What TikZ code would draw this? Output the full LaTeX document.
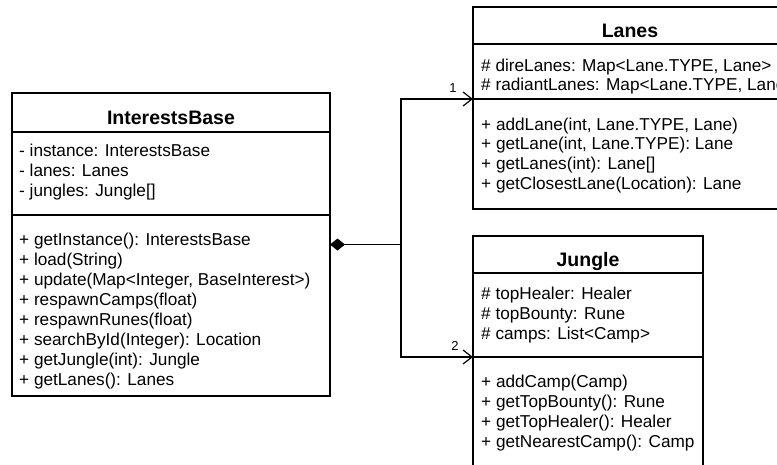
\documentclass[tikz,border=0pt]{standalone}
\usepackage{fontspec}
\setmainfont{Liberation Sans}
\usetikzlibrary{arrows.meta}
\begin{document}
\begin{tikzpicture}[x=1pt,y=-1pt,
  box/.style={draw=black, line width=1.2pt, fill=white, anchor=north west, inner sep=0pt, outer sep=0pt},
  sepline/.style={line width=1.2pt},
  ttl/.style={anchor=base, inner sep=0pt, font=\fontsize{19.5}{22}\selectfont\bfseries},
  mem/.style={anchor=base west, inner sep=0pt, font=\fontsize{17.2}{20}\selectfont},
  mult/.style={anchor=base, inner sep=0pt, font=\fontsize{13}{15}\selectfont},
  conn/.style={line width=1.2pt},
  openarrow/.style={-{Straight Barb[length=9pt,width=14pt]}},
  diamondtail/.style={{Diamond[length=15pt,width=12pt]}-},
]
\useasboundingbox (0,0) rectangle (777,464);
\clip (0,0) rectangle (777,464);
\fill[white] (0,0) rectangle (777,464);

% InterestsBase
\node[box, minimum width=318pt, minimum height=303pt] (ib) at (12,93) {};
\draw[sepline] (12,132) -- (330,132);
\draw[sepline] (12,215) -- (330,215);
\node[ttl] (ibt) at (171,124) {InterestsBase};
\node[mem] (ia1) at (19,156.7) {- instance: InterestsBase};
\node[mem] (ia2) at (19,176.7) {- lanes: Lanes};
\node[mem] (ia3) at (19,196.7) {- jungles: Jungle[]};
\node[mem] (im1) at (19,245.7) {+ getInstance(): InterestsBase};
\node[mem] (im2) at (19,265.7) {+ load(String)};
\node[mem] (im3) at (19,285.7) {+ update(Map<Integer, BaseInterest>)};
\node[mem] (im4) at (19,305.7) {+ respawnCamps(float)};
\node[mem] (im5) at (19,325.7) {+ respawnRunes(float)};
\node[mem] (im6) at (19,345.7) {+ searchById(Integer): Location};
\node[mem] (im7) at (19,365.7) {+ getJungle(int): Jungle};
\node[mem] (im8) at (19,385.7) {+ getLanes(): Lanes};

% Lanes
\node[box, minimum width=314pt, minimum height=202pt] (ln) at (473,7) {};
\draw[sepline] (473,44) -- (787,44);
\draw[sepline] (473,99) -- (787,99);
\node[ttl] (lnt) at (630,37) {Lanes};
\node[mem] (la1) at (481,71) {\# direLanes: Map<Lane.TYPE, Lane>};
\node[mem] (la2) at (481,90.7) {\# radiantLanes: Map<Lane.TYPE, Lane>};
\node[mem] (lm1) at (481,130) {+ addLane(int, Lane.TYPE, Lane)};
\node[mem] (lm2) at (481,149.7) {+ getLane(int, Lane.TYPE): Lane};
\node[mem] (lm3) at (481,169.3) {+ getLanes(int): Lane[]};
\node[mem] (lm4) at (481,189.3) {+ getClosestLane(Location): Lane};

% Jungle
\node[box, minimum width=230pt, minimum height=230pt] (jg) at (473,236) {};
\draw[sepline] (473,273) -- (703,273);
\draw[sepline] (473,357) -- (703,357);
\node[ttl] (jgt) at (588,266) {Jungle};
\node[mem] (ja1) at (481,299) {\# topHealer: Healer};
\node[mem] (ja2) at (481,319) {\# topBounty: Rune};
\node[mem] (ja3) at (481,339) {\# camps: List<Camp>};
\node[mem] (jm1) at (481,387.7) {+ addCamp(Camp)};
\node[mem] (jm2) at (481,407.7) {+ getTopBounty(): Rune};
\node[mem] (jm3) at (481,427.7) {+ getTopHealer(): Healer};
\node[mem] (jm4) at (481,447.7) {+ getNearestCamp(): Camp};

% connectors
\coordinate (lnin) at (473,99);
\coordinate (jgin) at (473,357);
\path (ib.east) ++(71,0) coordinate (split);
\draw[conn, diamondtail] (ib.east) -- (split);
\draw[conn, openarrow] (split) |- (lnin);
\draw[conn, openarrow] (split) |- (jgin);
\node[mult] (m1) at (453,92.7) {1};
\node[mult] (m2) at (455,350.7) {2};
\end{tikzpicture}
\end{document}
